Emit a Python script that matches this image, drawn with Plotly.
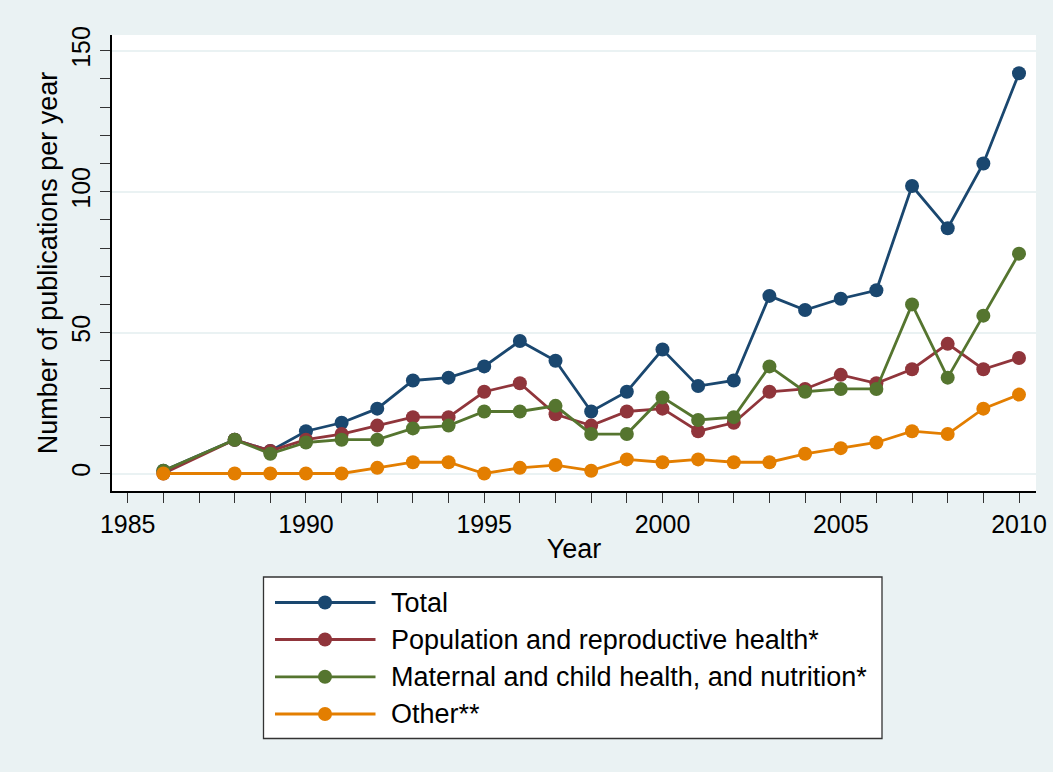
import plotly.graph_objects as go

# Publications per year by topic
years = [1986, 1988, 1989, 1990, 1991, 1992, 1993, 1994, 1995, 1996, 1997, 1998,
         1999, 2000, 2001, 2002, 2003, 2004, 2005, 2006, 2007, 2008, 2009, 2010]
total = [1, 12, 8, 15, 18, 23, 33, 34, 38, 47, 40, 22,
         29, 44, 31, 33, 63, 58, 62, 65, 102, 87, 110, 142]
population = [0, 12, 8, 12, 14, 17, 20, 20, 29, 32, 21, 17,
              22, 23, 15, 18, 29, 30, 35, 32, 37, 46, 37, 41]
maternal = [1, 12, 7, 11, 12, 12, 16, 17, 22, 22, 24, 14,
            14, 27, 19, 20, 38, 29, 30, 30, 60, 34, 56, 78]
other = [0, 0, 0, 0, 0, 2, 4, 4, 0, 2, 3, 1,
         5, 4, 5, 4, 4, 7, 9, 11, 15, 14, 23, 28]

series_names = ["Total", "Population and reproductive health*",
                "Maternal and child health, and nutrition*", "Other**"]
series_values = [total, population, maternal, other]
colors = ["#1a476f", "#90353b", "#55752f", "#e37e00"]

x_ticks = [1985, 1990, 1995, 2000, 2005, 2010]
y_ticks = [0, 50, 100, 150]

BG = "#eaf2f3"
FONT = "Arial, Liberation Sans, sans-serif"
W, H = 1053, 772
ML, MR, MT, MB = 112, 17, 35, 281
PW, PH = W - ML - MR, H - MT - MB

fig = go.Figure()
for name, vals, col in zip(series_names, series_values, colors):
    fig.add_trace(go.Scatter(
        x=years, y=vals, name=name, mode="lines+markers",
        line=dict(color=col, width=2.8),
        marker=dict(color=col, size=14),
        showlegend=False,
    ))

# Legend box drawn in paper coordinates (pixel positions converted)
def px_x(p):
    return (p - ML) / PW

def px_y(p):
    return (H - MB - p) / PH

shapes = [dict(type="rect", xref="paper", yref="paper",
               x0=px_x(263.5), x1=px_x(882), y0=px_y(577), y1=px_y(738.5),
               line=dict(color="#333333", width=1.3), fillcolor="white", layer="below")]
annotations = []
row_y = [602.5, 639.5, 676.8, 714]
for name, col, ry in zip(series_names, colors, row_y):
    shapes.append(dict(type="line", xref="paper", yref="paper",
                       x0=px_x(275), x1=px_x(375.5), y0=px_y(ry), y1=px_y(ry),
                       line=dict(color=col, width=2.8)))
    shapes.append(dict(type="circle", xref="paper", yref="paper",
                       x0=px_x(325 - 7), x1=px_x(325 + 7),
                       y0=px_y(ry + 7), y1=px_y(ry - 7),
                       line=dict(width=0), fillcolor=col))
    annotations.append(dict(xref="paper", yref="paper", x=px_x(389), y=px_y(ry),
                            xanchor="left", yanchor="middle", showarrow=False,
                            text=name, font=dict(family=FONT, size=27, color="black")))

x0_px, x1_px = 127.7, 1019.0
ppy = (x1_px - x0_px) / 25
xr = [1985 - (127.7 - ML) / ppy, 2010 + (W - MR - x1_px) / ppy]
y0_px, y150_px = 473.5, 50.7
ppu = (y0_px - y150_px) / 150
yr = [-(H - MB - y0_px) / ppu, (y0_px - MT) / ppu]

fig.update_layout(
    width=W, height=H,
    margin=dict(l=ML, r=MR, t=MT, b=MB),
    paper_bgcolor=BG, plot_bgcolor="white",
    font=dict(family=FONT, size=25, color="black"),
    shapes=shapes, annotations=annotations,
    xaxis=dict(
        range=xr, tickvals=x_ticks, ticks="outside", ticklen=10, tickwidth=1.3,
        tickcolor="#333333", showgrid=False, zeroline=False, automargin=False,
        showline=True, linecolor="black", linewidth=1.5,
        minor=dict(dtick=1, tick0=1985, ticks="outside", ticklen=10,
                   tickwidth=1.3, tickcolor="#333333", showgrid=False),
        title=dict(text="Year", standoff=2, font=dict(size=27)),
        tickfont=dict(size=25),
    ),
    yaxis=dict(
        range=yr, tickvals=y_ticks, ticks="outside", ticklen=10, tickwidth=1.3,
        tickcolor="#333333", tickangle=-90, showgrid=True, gridcolor=BG, gridwidth=2,
        zeroline=False, showline=True, linecolor="black", linewidth=1.5,
        automargin=False,
        minor=dict(dtick=10, tick0=0, ticks="outside", ticklen=10,
                   tickwidth=1.3, tickcolor="#333333", showgrid=False),
        title=dict(text="Number of publications per year", standoff=2, font=dict(size=27)),
        tickfont=dict(size=25),
    ),
)

fig.write_html("out.html")
